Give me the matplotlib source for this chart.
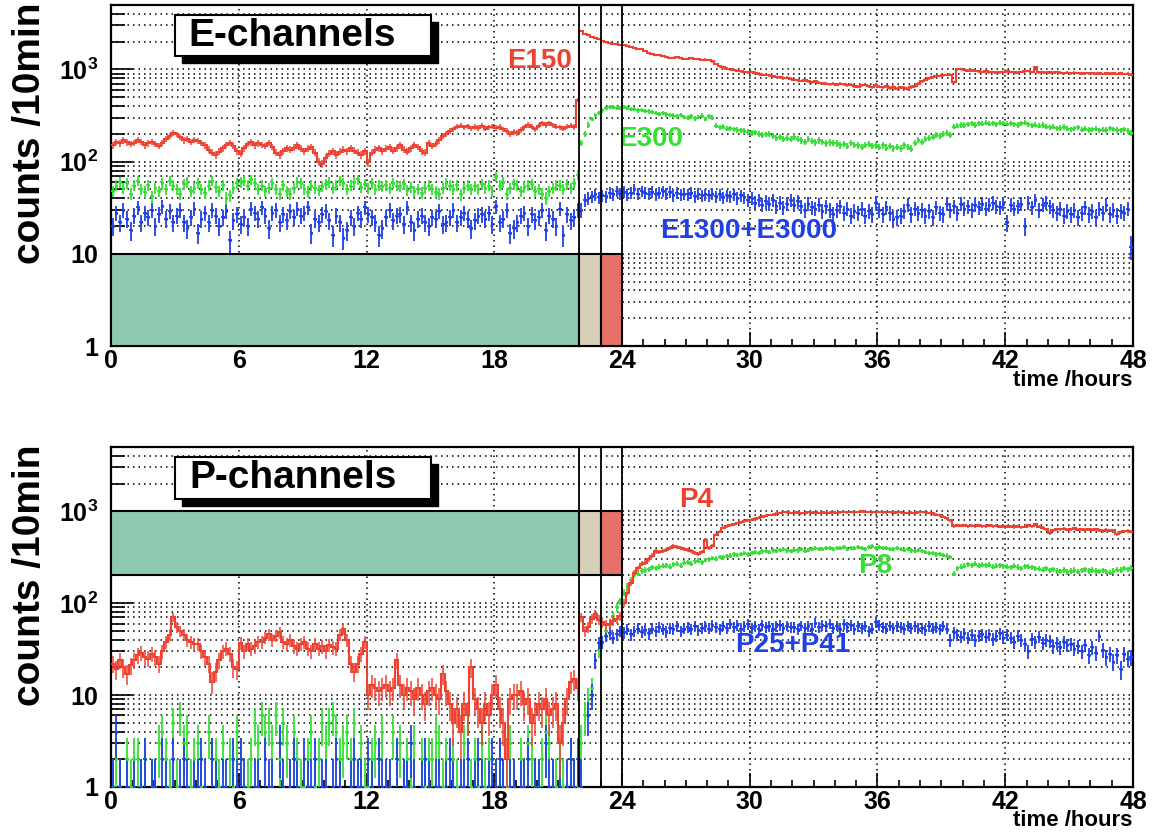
import numpy as np
import matplotlib
matplotlib.use('Agg')
import matplotlib.pyplot as plt
from matplotlib.patches import Rectangle
from matplotlib.ticker import FixedLocator, NullFormatter

plt.rcParams['font.family'] = 'Liberation Sans'
plt.rcParams['font.weight'] = 'bold'
plt.rcParams['mathtext.fontset'] = 'custom'
plt.rcParams['mathtext.rm'] = 'Liberation Sans:bold'
plt.rcParams['mathtext.bf'] = 'Liberation Sans:bold'
plt.rcParams['mathtext.it'] = 'Liberation Sans:bold'

# --- counts per 10 min bin, one row per hour (0..47 h) ---
e150 = [
    150, 165, 158, 170, 162, 155,   160, 172, 165, 150, 158, 163,
    155, 148, 160, 175, 190, 205,   198, 185, 170, 178, 165, 172,
    168, 160, 150, 135, 125, 118,   128, 140, 152, 160, 148, 130,
    122, 140, 155, 162, 150, 158,   152, 148, 160, 145, 125, 118,
    130, 140, 135, 142, 150, 138,   130, 138, 145, 125, 100, 95,
    110, 122, 130, 118, 128, 135,   130, 140, 132, 125, 118, 130,
    98, 125, 135, 140, 130, 138,    145, 132, 140, 150, 135, 128,
    140, 152, 145, 130, 125, 160,   148, 155, 170, 190, 200, 215,
    225, 240, 245, 235, 242, 230,   238, 232, 245, 228, 235, 240,
    232, 238, 225, 215, 200, 210,   205, 220, 235, 250, 240, 225,
    245, 260, 250, 262, 248, 240,   235, 228, 240, 245, 238, 470,
    2600, 2450, 2350, 2250, 2180, 2120,   2050, 1980, 1950, 1900, 1880, 1850,
    1820, 1800, 1770, 1720, 1680, 1650,   1600, 1520, 1480, 1450, 1420, 1400,
    1360, 1340, 1330, 1360, 1320, 1300,   1310, 1330, 1300, 1290, 1270, 1280,
    1260, 1220, 1150, 1080, 1050, 1020,   1000, 990, 960, 950, 940, 930,
    940, 920, 900, 880, 870, 860,   840, 830, 820, 800, 810, 790,
    770, 760, 750, 760, 740, 730,   740, 720, 710, 700, 690, 700,
    680, 700, 690, 670, 680, 660,   650, 670, 680, 660, 640, 670,
    650, 640, 660, 630, 645, 620,   640, 630, 615, 645, 660, 700,
    740, 770, 800, 820, 840, 850,   860, 870, 880, 730, 1000, 1010,
    990, 970, 980, 960, 950, 940,   950, 930, 940, 920, 930, 940,
    950, 940, 930, 920, 940, 950,   960, 940, 1050, 930, 940, 920,
    930, 920, 940, 925, 910, 920,   910, 920, 915, 900, 905, 910,
    915, 900, 910, 890, 905, 900,   910, 895, 905, 890, 900, 880,
]
e300 = [
    48, 55, 60, 52, 58, 45,   55, 62, 50, 47, 56, 42,   52, 48, 58, 50, 62, 55,
    50, 45, 57, 60, 48, 52,   58, 50, 46, 55, 62, 53,   48, 56, 40, 43, 52, 58,
    60, 62, 55, 64, 58, 50,   55, 48, 52, 58, 50, 45,   56, 48, 45, 52, 60, 58,
    50, 47, 55, 52, 49, 54,   57, 60, 52, 55, 62, 58,   50, 55, 60, 64, 53, 57,
    52, 58, 50, 55, 54, 56,   52, 58, 55, 54, 57, 49,   53, 48, 50, 46, 52, 55,
    50, 47, 45, 52, 58, 55,   50, 56, 44, 52, 55, 50,   54, 50, 57, 52, 55, 48,
    68, 55, 60, 45, 52, 57,   55, 48, 53, 55, 57, 48,   50, 45, 40, 48, 52, 56,
    55, 50, 57, 52, 58, 72,
    160, 200, 250, 290, 320, 340,   360, 380, 395, 390, 385, 380,
    390, 385, 375, 370, 360, 365,   355, 350, 345, 340, 330, 335,
    325, 320, 315, 310, 320, 305,   300, 310, 295, 305, 315, 290,
    310, 300, 245, 235, 240, 228,   230, 225, 220, 218, 215, 210,
    205, 208, 200, 195, 198, 200,   190, 180, 185, 178, 182, 175,
    185, 178, 170, 165, 175, 168,   162, 170, 165, 158, 162, 160,
    158, 150, 155, 148, 160, 152,   150, 145, 152, 155, 148, 150,
    145, 150, 142, 148, 140, 145,   140, 150, 145, 138, 160, 172,
    165, 175, 180, 185, 195, 190,   200, 205, 195, 240, 245, 250,
    250, 255, 260, 250, 262, 258,   265, 258, 260, 255, 265, 260,
    258, 262, 255, 250, 260, 265,   255, 248, 252, 245, 250, 240,
    235, 240, 230, 232, 238, 228,   225, 230, 235, 222, 228, 220,
    225, 228, 218, 222, 220, 230,   225, 220, 218, 225, 215, 205,
]
e1300_3000 = [
    20, 28, 22, 30, 24, 18,   26, 32, 22, 28, 25, 30,   20, 27, 33, 24, 29, 22,
    26, 30, 22, 19, 25, 31,   17, 24, 28, 22, 30, 26,   20, 25, 29, 14, 23, 27,
    21, 25, 20, 31, 28, 24,   32, 26, 19, 28, 30, 22,   27, 23, 29, 25, 31, 26,
    28, 32, 17, 24, 22, 27,   29, 23, 16, 26, 22, 15,   18, 25, 20, 28, 24, 32,
    27, 25, 22, 16, 19, 25,   30, 23, 26, 27, 21, 32,   22, 18, 24, 26, 22, 20,
    25, 24, 29, 21, 22, 25,   30, 22, 25, 28, 24, 19,   23, 26, 27, 24, 28, 21,
    33, 22, 24, 30, 17, 19,   22, 26, 28, 20, 27, 23,   25, 30, 18, 26, 24, 20,
    31, 16, 27, 23, 25, 30,
    30, 38, 40, 42, 44, 41,   43, 42, 46, 44, 48, 45,   47, 44, 46, 50, 45, 48,
    46, 45, 47, 44, 46, 48,   45, 47, 43, 46, 44, 45,   44, 46, 42, 45, 43, 44,
    43, 45, 42, 44, 41, 43,   42, 44, 40, 43, 41, 38,   40, 36, 38, 34, 37, 35,
    38, 33, 36, 32, 35, 38,   34, 37, 33, 30, 35, 32,   31, 34, 29, 33, 30, 27,
    30, 33, 28, 31, 26, 29,   28, 31, 26, 29, 27, 36,   30, 27, 32, 28, 24, 25,
    26, 29, 34, 27, 31, 28,   30, 26, 29, 25, 32, 28,   27, 35, 30, 33, 28, 35,
    31, 33, 30, 34, 32, 35,   31, 34, 36, 33, 32, 35,   22, 34, 31, 33, 35, 20,
    36, 32, 38, 30, 34, 36,   33, 30, 28, 31, 26, 29,   27, 30, 25, 28, 32, 27,
    29, 25, 31, 28, 34, 27,   30, 26, 29, 28, 31, 12,
]
p4 = [
    22, 19, 24, 20, 17, 21,   24, 27, 29, 26, 25, 28,   26, 22, 30, 38, 45, 70,
    55, 50, 45, 40, 38, 36,   36, 30, 26, 22, 14, 18,   24, 30, 32, 28, 20, 19,
    37, 30, 36, 32, 34, 38,   38, 42, 46, 40, 44, 48,   38, 36, 40, 34, 32, 36,
    38, 32, 30, 36, 32, 34,   30, 35, 33, 32, 45, 52,   40, 22, 18, 22, 28, 38,
    10, 13, 12, 11, 12, 13,   11, 12, 24, 13, 10, 12,   11, 9, 12, 10, 8, 11,
    12, 10, 9, 17, 11, 8,     5, 7, 4, 8, 6, 20,       9, 7, 5, 8, 6, 10,
    13, 7, 5, 2, 9, 10,       10, 11, 8, 9, 5, 6,      8, 7, 9, 6, 7, 8,
    3, 5, 9, 14, 15, 12,
    70, 50, 55, 68, 76, 66,   62, 58, 60, 64, 67, 72,
    100, 130, 165, 213, 240, 270,   275, 300, 330, 365, 360, 370,
    380, 400, 415, 410, 395, 385,   380, 370, 350, 345, 360, 490,
    400, 420, 555, 600, 660, 690,   700, 720, 745, 760, 780, 800,
    810, 830, 850, 870, 890, 910,   920, 940, 960, 980, 975, 960,
    960, 970, 950, 960, 980, 965,   970, 960, 975, 960, 965, 970,
    960, 970, 980, 975, 985, 970,   980, 995, 990, 985, 975, 970,
    985, 975, 970, 980, 965, 975,   970, 960, 955, 965, 950, 975,
    980, 970, 960, 950, 920, 900,   870, 840, 800, 690, 700, 695,
    700, 690, 695, 685, 700, 690,   690, 700, 685, 695, 680, 690,
    680, 690, 675, 685, 670, 680,   700, 690, 720, 680, 660, 640,
    580, 620, 640, 635, 645, 630,   640, 650, 630, 640, 625, 635,
    630, 640, 620, 610, 630, 615,   620, 560, 590, 605, 610, 600,
]
p8 = [
    1, 2, 1, 0, 2, 1,   2, 2, 1, 2, 0, 1,   1, 3, 4, 2, 1, 5,   1, 6, 3, 4, 1, 2,
    3, 1, 0, 4, 2, 2,   1, 3, 0, 2, 1, 4,   2, 0, 1, 2, 5, 3,   6, 4, 5, 3, 6, 2,
    5, 3, 1, 4, 2, 1,   1, 2, 4, 1, 2, 5,   3, 5, 6, 4, 2, 3,   4, 2, 5, 1, 3, 1,
    1, 2, 3, 2, 4, 0,   1, 4, 2, 3, 1, 2,   1, 3, 0, 2, 1, 2,   2, 4, 3, 1, 2, 0,
    2, 1, 0, 3, 6, 1,   2, 1, 3, 1, 2, 0,   1, 2, 1, 1, 3, 1,   0, 2, 1, 3, 2, 1,
    1, 2, 4, 3, 1, 1,   2, 1, 0, 2, 1, 1,
    3, 6, 9, 12, 24, 31,   38, 50, 60, 72, 90, 105,
    130, 155, 180, 200, 210, 225,   230, 235, 245, 240, 250, 255,
    260, 250, 265, 270, 255, 275,   280, 270, 285, 290, 280, 295,
    300, 310, 305, 320, 315, 325,   330, 340, 335, 345, 350, 340,
    355, 360, 350, 365, 370, 360,   375, 370, 380, 385, 375, 370,
    380, 375, 385, 370, 380, 390,   395, 385, 390, 400, 395, 390,
    400, 395, 405, 390, 400, 395,   410, 400, 390, 405, 415, 400,
    405, 395, 400, 390, 385, 395,   385, 380, 390, 375, 370, 380,
    370, 360, 350, 355, 340, 345,   335, 330, 320, 210, 240, 250,
    255, 265, 260, 270, 255, 262,   258, 262, 250, 255, 260, 252,
    250, 245, 255, 248, 240, 252,   250, 245, 240, 238, 232, 240,
    228, 235, 225, 222, 230, 218,   225, 230, 220, 228, 235, 225,
    230, 225, 222, 228, 220, 215,   225, 232, 230, 240, 235, 242,
]
p25_41 = [
    1, 4, 1, 0, 1, 0,   1, 0, 1, 2, 0, 1,   1, 0, 2, 1, 0, 2,   0, 1, 2, 1, 0, 1,
    1, 2, 1, 0, 2, 1,   0, 1, 1, 0, 2, 1,   2, 1, 0, 0, 1, 1,   0, 2, 1, 1, 0, 3,
    1, 0, 1, 2, 1, 0,   2, 1, 1, 2, 0, 1,   1, 0, 1, 2, 1, 0,   0, 1, 2, 1, 1, 0,
    2, 1, 0, 2, 1, 1,   1, 0, 2, 0, 1, 1,   3, 1, 0, 1, 2, 1,   0, 1, 1, 0, 1, 2,
    1, 0, 1, 1, 2, 0,   1, 2, 1, 0, 1, 2,   1, 2, 1, 0, 1, 1,   0, 1, 1, 2, 0, 1,
    1, 0, 3, 1, 1, 0,   1, 0, 1, 2, 1, 2,
    1, 0, 6, 10, 24, 37,   38, 44, 47, 42, 46, 50,   48, 52, 46, 50, 53, 49,
    51, 47, 53, 50, 55, 52,   49, 54, 52, 56, 50, 53,   55, 52, 57, 51, 54, 56,
    53, 58, 55, 52, 57, 54,   60, 55, 58, 53, 56, 59,   54, 57, 52, 58, 55, 56,
    53, 56, 58, 54, 57, 55,   55, 52, 57, 54, 56, 53,   61, 55, 58, 56, 60, 54,
    57, 53, 59, 55, 58, 52,   56, 54, 57, 50, 53, 62,   58, 55, 53, 57, 54, 56,
    55, 52, 57, 54, 56, 53,   54, 51, 56, 53, 55, 52,   57, 53, 40, 48, 45, 43,
    47, 42, 45, 40, 44, 46,   43, 46, 41, 44, 47, 42,   45, 42, 38, 44, 40, 36,
    30, 41, 38, 43, 37, 40,   39, 34, 37, 33, 38, 35,   36, 32, 34, 30, 35, 27,
    33, 29, 44, 31, 26, 28,   23, 27, 19, 28, 25, 26,
]

# shaded periods (hours) and their colours
periods = [(0, 22), (22, 23), (23, 24)]
period_colors = ['#8ecab1', '#d7d0b8', '#e5716a']

RED, GREEN, BLUE = '#ee4130', '#35e035', '#1f40e8'
W, H = 1157, 832

edges = np.arange(289) / 6.0
centers = edges[:-1] + 1 / 12.0


def draw_hist(ax, vals, color):
    v = np.asarray(vals, float)
    ax.stairs(v, edges, color=color, lw=1.5, baseline=None, zorder=5)
    m = v > 0
    ax.errorbar(centers[m], v[m], yerr=np.sqrt(v[m]), fmt='none', ecolor=color,
                elinewidth=1.1, zorder=5)


def draw_points(ax, vals, color):
    v = np.asarray(vals, float)
    m = v > 0
    err = np.sqrt(v[m])
    lo = np.minimum(err, v[m] - 1e-3)
    ax.errorbar(centers[m], v[m], yerr=[lo, err], xerr=1 / 12.0, fmt='.', ms=2.5,
                color=color, ecolor=color, elinewidth=1.3, zorder=4)


def setup(ax, box_lo, box_hi):
    ax.set_yscale('log')
    ax.set_xlim(0, 48)
    ax.set_ylim(1, 5000)
    ax.yaxis.set_major_locator(FixedLocator([1, 10, 100, 1000]))
    ax.set_yticklabels(['1', '10', r'$10^{2}$', r'$10^{3}$'])
    minors = [m * 10 ** d for d in range(4) for m in range(2, 10) if m * 10 ** d <= 5000]
    ax.yaxis.set_minor_locator(FixedLocator(minors))
    ax.yaxis.set_minor_formatter(NullFormatter())
    ax.set_xticks(np.arange(0, 49, 6))
    ax.set_xticks(np.arange(0, 49, 1), minor=True)
    ax.tick_params(axis='both', which='both', direction='in', top=False, right=False,
                   labelsize=18, width=1.2)
    ax.tick_params(axis='y', which='major', length=16, pad=9)
    ax.tick_params(axis='y', which='minor', length=10)
    ax.tick_params(axis='x', which='major', length=10, pad=2)
    ax.tick_params(axis='x', which='minor', length=5)
    for lab in ax.get_xticklabels() + ax.get_yticklabels():
        lab.set_fontweight('bold')
    ax.xaxis.grid(True, which='major', color='black', ls=(0, (1, 2.6)), lw=1.1)
    ax.yaxis.grid(True, which='both', color='black', ls=(0, (1, 2.6)), lw=1.1)
    ax.set_axisbelow(True)
    for s in ax.spines.values():
        s.set_linewidth(1.6)
    for (a, b), c in zip(periods, period_colors):
        ax.add_patch(Rectangle((a, box_lo), b - a, box_hi - box_lo, facecolor=c,
                               edgecolor='black', lw=1.5, zorder=3))
    for xv in (22, 23, 24):
        ax.axvline(xv, color='black', lw=1.3, zorder=6)


def title_box(fig, text, x0, y0, x1, y1):
    # pixel coords from top-left
    sh = 7
    fig.add_artist(Rectangle(((x0 + sh) / W, 1 - (y1 + sh) / H), (x1 - x0) / W, (y1 - y0) / H,
                             transform=fig.transFigure, facecolor='black', edgecolor='black', zorder=10))
    fig.add_artist(Rectangle((x0 / W, 1 - y1 / H), (x1 - x0) / W, (y1 - y0) / H,
                             transform=fig.transFigure, facecolor='white', edgecolor='black',
                             lw=1.5, zorder=11))
    fig.text((x0 + x1) / 2 / W - 0.009, 1 - (y0 + y1) / 2 / H, text, fontsize=28,
             fontweight='bold', ha='center', va='center', zorder=12)


fig = plt.figure(figsize=(W / 100, H / 100), dpi=100)
ax1 = fig.add_axes([111 / W, 1 - 346 / H, 1022 / W, 341 / H])
ax2 = fig.add_axes([111 / W, 1 - 787 / H, 1022 / W, 340 / H])

setup(ax1, 1, 10)
draw_points(ax1, e1300_3000, BLUE)
draw_points(ax1, e300, GREEN)
draw_hist(ax1, e150, RED)
ax1.text(18.6, 1250, 'E150', color=RED, fontsize=20, fontweight='bold', va='center')
ax1.text(23.8, 178, 'E300', color=GREEN, fontsize=20, fontweight='bold', va='center')
ax1.text(25.8, 17.8, 'E1300+E3000', color=BLUE, fontsize=20, fontweight='bold', va='center')

setup(ax2, 200, 1000)
draw_points(ax2, p8, GREEN)
draw_points(ax2, p25_41, BLUE)
draw_hist(ax2, p4, RED)
ax2.text(26.7, 1340, 'P4', color=RED, fontsize=20, fontweight='bold', va='center')
ax2.text(35.1, 254, 'P8', color=GREEN, fontsize=20, fontweight='bold', va='center')
ax2.text(29.3, 34.8, 'P25+P41', color=BLUE, fontsize=20, fontweight='bold', va='center')

title_box(fig, 'E-channels', 175, 15, 431, 56)
title_box(fig, 'P-channels', 175, 457, 431, 499)

for top in (3, 445):
    fig.text(30 / W, 1 - top / H, 'counts /10min', rotation=90, fontsize=28,
             fontweight='bold', ha='center', va='top')
for ypx in (381, 821):
    fig.text(1132 / W, 1 - ypx / H, 'time /hours', fontsize=16, fontweight='bold',
             ha='right', va='center')

fig.savefig('out.png', dpi=100)
